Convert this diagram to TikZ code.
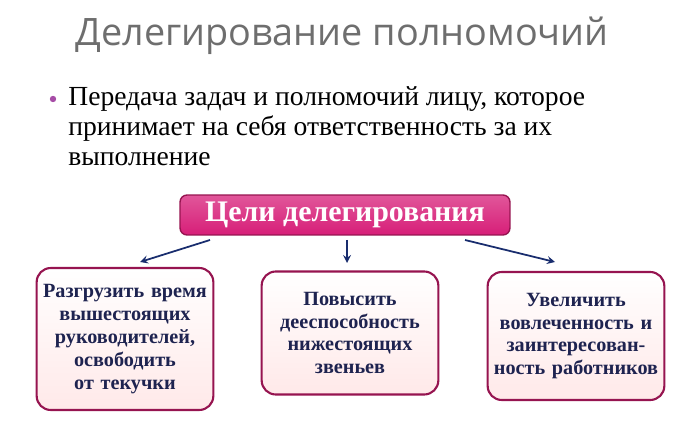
\documentclass[tikz,border=0pt]{standalone}
\usepackage{fontspec}
\setmainfont{Liberation Serif}
\newfontfamily\titlefont{Open Sans}
\usetikzlibrary{positioning}
\definecolor{titlegray}{RGB}{110,110,110}
\definecolor{boxrim}{RGB}{150,20,80}
\definecolor{goalpink}{RGB}{215,30,120}
\definecolor{navytext}{RGB}{30,35,80}
\definecolor{arrowblue}{RGB}{25,45,110}

\begin{document}
\begin{tikzpicture}[
    x = 0.02cm, y = -0.02cm,
    > = stealth,
    goal/.style = {rectangle, rounded corners = 4pt, draw = boxrim, thick,
                   top color = goalpink!75, bottom color = goalpink,
                   text = white, font = \bfseries\fontsize{17}{20}\selectfont,
                   minimum width = 6.6cm, minimum height = 0.8cm},
    aim/.style = {rectangle, rounded corners = 8pt, draw = boxrim, line width = 1.2pt,
                  top color = white, bottom color = pink!35,
                  text = navytext, font = \bfseries\fontsize{11.5}{13}\selectfont,
                  align = center, text width = 3.3cm, minimum width = 3.5cm},
    link/.style = {->, arrowblue, line width = 1pt}
]
\useasboundingbox (0,0) rectangle (700,432);

% Title and bullet
\node[text = titlegray, font = \titlefont\fontsize{21.5}{26}\selectfont] (title) at (342,36)
    {Делегирование полномочий};
\fill[violet!70] (53,99) circle (3.2);
\node[anchor = north west, align = left, inner sep = 0pt,
      font = \fontsize{15.7}{17.2}\selectfont] (text) at (68,86)
    {Передача задач и полномочий лицу, которое\\
     принимает на себя ответственность за их\\
     выполнение};

% Goals
\node[goal] (goals) at (345,215) {Цели делегирования};

\node[aim, minimum height = 2.84cm] (relief) at (125,339)
    {Разгрузить время вышестоящих руководителей, освободить от текучки};
\node[aim, minimum height = 2.46cm] (power)  at (350,333)
    {Повысить дееспособность нижестоящих звеньев};
\node[aim, minimum height = 2.56cm] (involve) at (576,336)
    {Увеличить вовлеченность и заинтересован-\\ность работников};

% Arrows
\coordinate (a1) at (210,240);
\coordinate (a2) at (347,240);
\coordinate (a3) at (465,240);
\coordinate (b1) at (140,262);
\coordinate (b2) at (347,263);
\coordinate (b3) at (555,262);
\draw[link] (a1) -- (b1);
\draw[link] (a2) -- (b2);
\draw[link] (a3) -- (b3);

\end{tikzpicture}
\end{document}
